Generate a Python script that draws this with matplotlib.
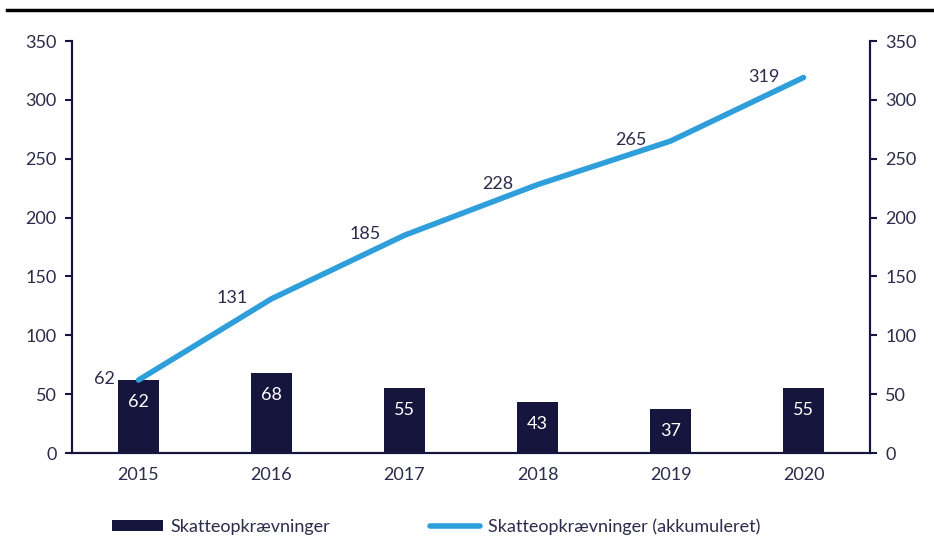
import matplotlib.pyplot as plt
import numpy as np

plt.rcParams['font.family'] = ['Lato', 'DejaVu Sans']

years = ['2015', '2016', '2017', '2018', '2019', '2020']
annual = [62, 68, 55, 43, 37, 55]
cumulative = [62, 131, 185, 228, 265, 319]

navy = '#15153d'
blue = '#2f9fdc'
txt = '#2b2b4b'
fs = 13

fig = plt.figure(figsize=(9.34, 5.47), dpi=100)
ax = fig.add_axes([0.0771, 0.1718, 0.8544, 0.7532])
ax2 = ax.twinx()

x = np.arange(len(years))
bars = ax.bar(x, annual, width=0.31, color=navy, zorder=2, label='Skatteopkrævninger')
line, = ax.plot(x, cumulative, color=blue, lw=4, solid_capstyle='round', zorder=3,
                label='Skatteopkrævninger (akkumuleret)')

# værdier i søjlerne
for xi, v in zip(x, annual):
    ax.annotate(str(v), (xi, v), xytext=(0, -22), textcoords='offset pixels',
                ha='center', va='center', color='white', fontsize=fs)
# værdier ved linjen
for xi, v in zip(x, cumulative):
    ax.annotate(str(v), (xi, v), xytext=(-24, 1), textcoords='offset pixels',
                ha='right', va='center', color=txt, fontsize=fs)

for a in (ax, ax2):
    a.set_ylim(0, 350)
    a.set_yticks(range(0, 351, 50))
    a.tick_params(axis='y', colors=navy, labelcolor=txt, labelsize=fs, length=5, width=1.5, pad=6)
    for s in a.spines.values():
        s.set_color(navy)
        s.set_linewidth(1.5)
    a.spines['top'].set_visible(False)

ax.set_xlim(-0.5, 5.5)
ax.set_xticks(x)
ax.set_xticklabels(years)
ax.tick_params(axis='x', length=0, labelcolor=txt, labelsize=fs, pad=10)

ax.legend([bars, line], ['Skatteopkrævninger', 'Skatteopkrævninger (akkumuleret)'],
          loc='center left', bbox_to_anchor=(0.030, -0.178), ncol=2, frameon=False,
          fontsize=fs, handlelength=2.8, handleheight=0.55, columnspacing=5.55,
          handletextpad=0.4, labelcolor=txt)

fig.add_artist(plt.Line2D([0.007, 1.0], [0.982, 0.982], color='black', lw=2.5,
                          transform=fig.transFigure))

fig.savefig('out.png', dpi=100)
